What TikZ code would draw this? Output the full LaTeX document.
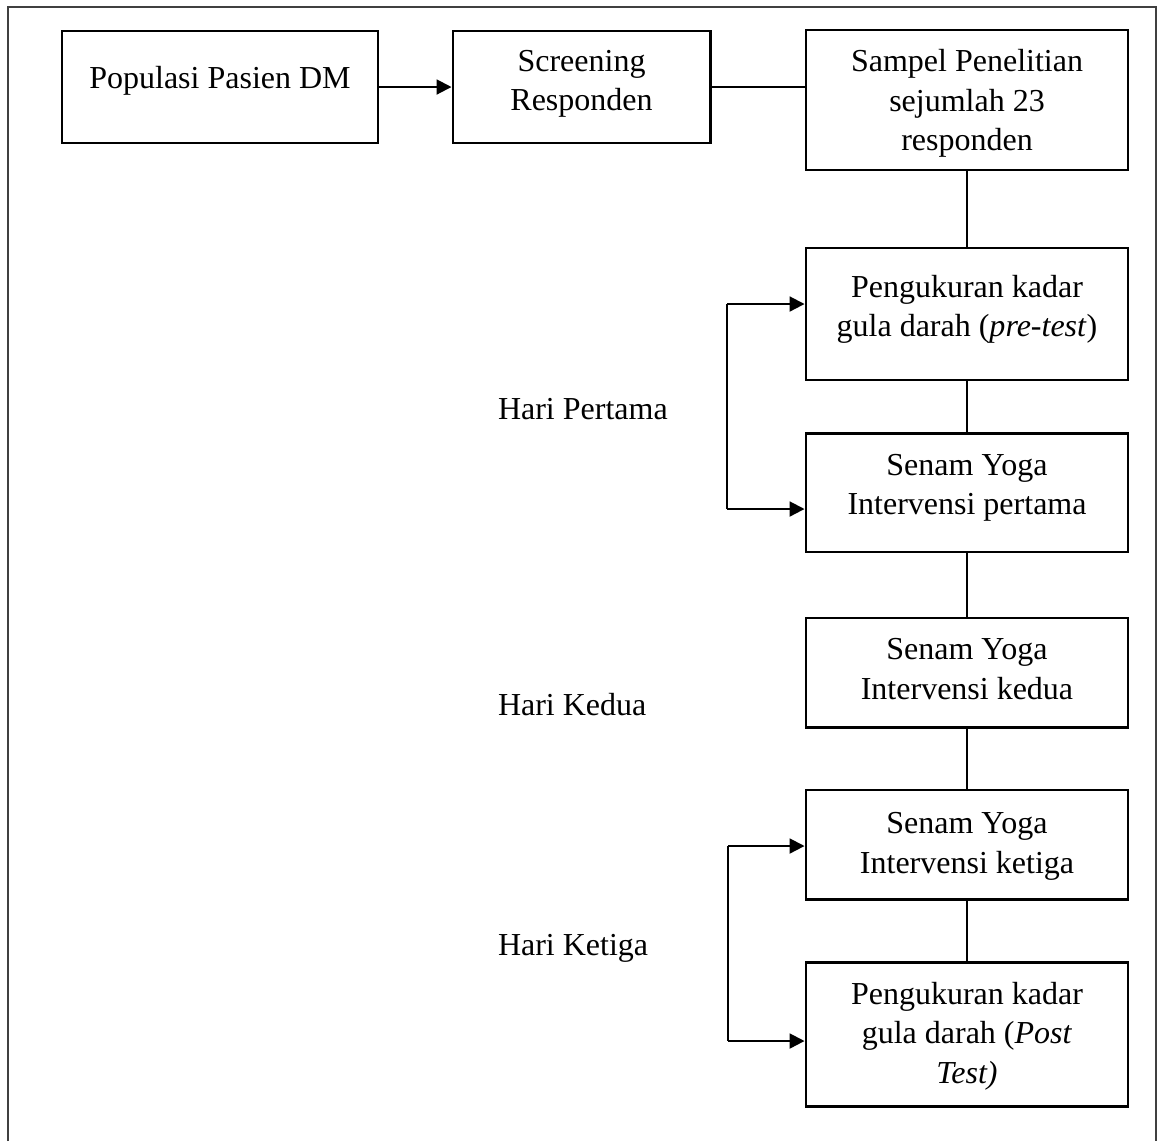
\documentclass[tikz,border=0pt]{standalone}
\usepackage{fontspec}
\setmainfont{Liberation Serif}
\usepackage{tikz}
\usetikzlibrary{arrows.meta}
\tikzset{
	flow box/.style={rectangle,draw,line width=1.1pt,align=center,inner sep=0pt,
		minimum width=120.75pt,font=\fontsize{12}{14.8}\selectfont},
	day node/.style={anchor=west,inner sep=0pt,font=\fontsize{12}{14.8}\selectfont},
	link/.style={-,line width=0.5pt},
	frame line/.style={-,line width=0.6pt,draw=black!75}
}

\begin{document}
\begin{tikzpicture}[x=0.375pt,y=-0.375pt,->,>={Triangle[length=5.6pt,width=5.6pt]},line width=0.75pt]
	\useasboundingbox (0,0) rectangle (1160,1141);
	\draw[frame line] (8,1141) -- (8,7) -- (1156,7) -- (1156,1141);
	% boxes
	\node [flow box,minimum width=118.5pt,minimum height=42pt,text depth=7.1pt] (1) at (220,87) {Populasi Pasien DM};
	\node [flow box,minimum width=96.4pt,minimum height=42pt,text depth=4.9pt] (2) at (581.5,87) {Screening\\Responden};
	\node [flow box,minimum height=52.5pt,text depth=-0.4pt] (3) at (967,100) {Sampel Penelitian\\sejumlah 23\\responden};
	\node [flow box,minimum height=49.5pt,text depth=5.9pt] (4) at (967,314) {Pengukuran kadar\\gula darah (\textit{pre-test})};
	\node [flow box,minimum height=44.6pt,text depth=6pt] (5) at (967,492.5) {Senam Yoga\\Intervensi pertama};
	\node [flow box,minimum height=40.9pt,text depth=2.8pt] (6) at (967,672.5) {Senam Yoga\\Intervensi kedua};
	\node [flow box,minimum height=40.9pt,text depth=1.2pt] (7) at (967,844.5) {Senam Yoga\\Intervensi ketiga};
	\node [flow box,minimum height=54pt,text depth=1pt] (8) at (967,1034) {Pengukuran kadar\\gula darah (\textit{Post}\\\textit{Test)}};
	% days
	\node [day node] (9) at (497,409) {Hari Pertama};
	\node [day node] (10) at (497,705) {Hari Kedua};
	\node [day node] (11) at (497,948) {Hari Ketiga};
	% connectors
	\draw (1) -- (2);
	\draw [link] (2.east) -- (2.east -| 3.west);
	\draw [link] (3) -- (4);
	\draw [link] (4) -- (5);
	\draw [link] (5) -- (6);
	\draw [link] (6) -- (7);
	\draw [link] (7) -- (8);
	% brackets
	\coordinate (c1) at (727,304);
	\coordinate (c2) at (727,509);
	\coordinate (c3) at (728,846);
	\coordinate (c4) at (728,1041);
	\draw [link] (c1) -- (c2);
	\draw (c1) -- (c1 -| 4.west);
	\draw (c2) -- (c2 -| 5.west);
	\draw [link] (c3) -- (c4);
	\draw (c3) -- (c3 -| 7.west);
	\draw (c4) -- (c4 -| 8.west);
\end{tikzpicture}
\end{document}
